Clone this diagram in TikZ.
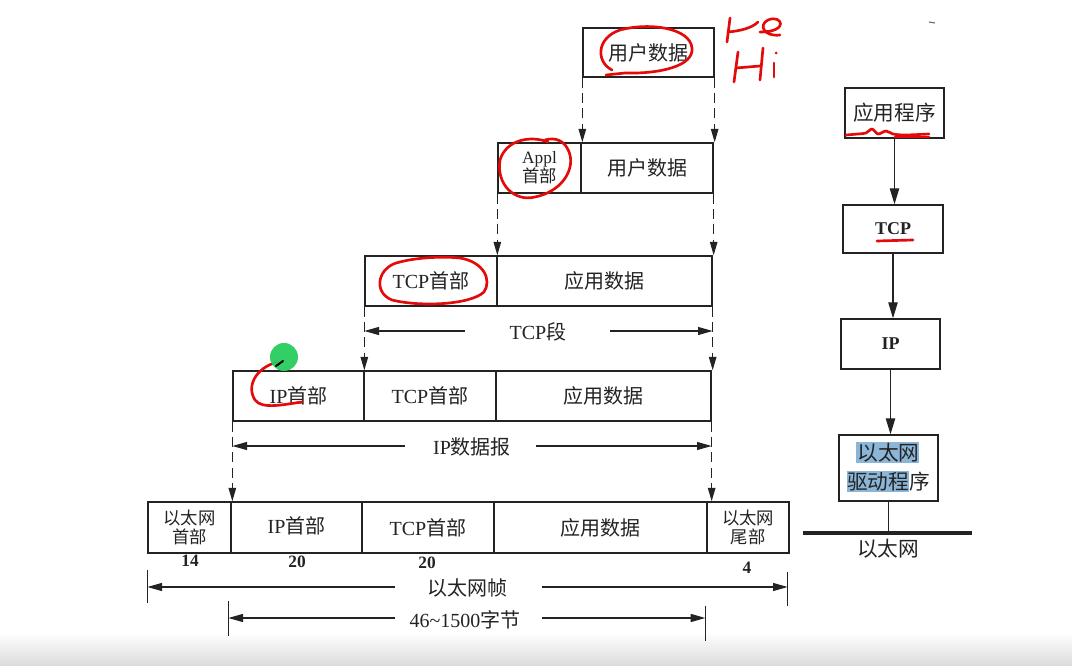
\documentclass[tikz,border=0pt]{standalone}
\usepackage{fontspec}
\setmainfont{Liberation Serif}
\newfontfamily\cjkfont{Noto Sans CJK SC}
\newcommand\zhtxt[1]{{\cjkfont #1}}
\usetikzlibrary{arrows.meta,fit,calc}
\definecolor{annotred}{RGB}{228,10,10}
\definecolor{hlblue}{RGB}{140,182,216}
\definecolor{dotgreen}{RGB}{40,205,95}
\definecolor{inkc}{RGB}{35,35,35}
\begin{document}
\begin{tikzpicture}[x=0.75pt,y=-0.75pt,
  every node/.style={text=inkc},
  cell/.style={draw=inkc, line width=1pt, inner sep=0pt},
  celltext/.style={inner sep=0pt, align=center, font=\fontsize{15}{18}\selectfont},
  smalltext/.style={inner sep=0pt, align=center, font=\fontsize{13}{14}\selectfont},
  sidetext/.style={inner sep=0pt, align=center, font=\fontsize{15.5}{22}\selectfont},
  sidebold/.style={inner sep=0pt, font=\fontsize{13.5}{16}\selectfont\bfseries},
  drop/.style={draw=inkc, dash pattern=on 7.5pt off 4pt, line width=1.1pt, -{Triangle[length=10pt,width=5.5pt]}},
  dimarrow/.style={draw=inkc, line width=0.9pt, -{Triangle[length=11pt,width=6pt]}},
  flow/.style={draw=inkc, line width=1pt, -{Triangle[length=12pt,width=7pt]}},
  tickline/.style={draw=inkc, line width=1pt},
  dimlabel/.style={font=\fontsize{15}{18}\selectfont, inner sep=0pt},
  numlabel/.style={font=\fontsize{13}{15}\selectfont\bfseries, inner sep=0pt},
  annot/.style={draw=annotred, line width=2pt, line cap=round, line join=round},
  hl/.style={fill=hlblue}
]
\useasboundingbox (0,0) rectangle (1072,666);
\fill[white] (0,0) rectangle (1072,666);
\shade[top color=white, bottom color=black!14] (0,632) rectangle (1072,666);

% ---------- row 1 ----------
\node[cell, fit={(583,28) (714,77)}] (r1) {};
\node[celltext] (t1) at (r1.center) {\zhtxt{用户数据}};
% ---------- row 2 ----------
\node[cell, fit={(498,143) (581,193)}] (r2a) {};
\node[smalltext] (t2a) at (r2a.center) {Appl\\\zhtxt{首部}};
\node[cell, fit={(581,143) (713,193)}] (r2b) {};
\node[celltext] (t2b) at (r2b.center) {\zhtxt{用户数据}};
% ---------- row 3 ----------
\node[cell, fit={(365,256) (497,306)}] (r3a) {};
\node[celltext] (t3a) at (r3a.center) {TCP\zhtxt{首部}};
\node[cell, fit={(497,256) (712,306)}] (r3b) {};
\node[celltext] (t3b) at (r3b.center) {\zhtxt{应用数据}};
% ---------- row 4 ----------
\node[cell, fit={(233,371) (364,421)}] (r4a) {};
\node[celltext] (t4a) at (r4a.center) {IP\zhtxt{首部}};
\node[cell, fit={(364,371) (496,421)}] (r4b) {};
\node[celltext] (t4b) at (r4b.center) {TCP\zhtxt{首部}};
\node[cell, fit={(496,371) (711,421)}] (r4c) {};
\node[celltext] (t4c) at (r4c.center) {\zhtxt{应用数据}};
% ---------- row 5 ----------
\node[cell, fit={(148,502) (231,553)}] (r5a) {};
\node[smalltext] (t5a) at (r5a.center) {\zhtxt{以太网}\\\zhtxt{首部}};
\node[cell, fit={(231,502) (362,553)}] (r5b) {};
\node[celltext] (t5b) at ($(r5b.center)+(0,-2)$) {IP\zhtxt{首部}};
\node[cell, fit={(362,502) (494,553)}] (r5c) {};
\node[celltext] (t5c) at (r5c.center) {TCP\zhtxt{首部}};
\node[cell, fit={(494,502) (707,553)}] (r5d) {};
\node[celltext] (t5d) at (r5d.center) {\zhtxt{应用数据}};
\node[cell, fit={(707,502) (789,553)}] (r5e) {};
\node[smalltext] (t5e) at (r5e.center) {\zhtxt{以太网}\\\zhtxt{尾部}};

% ---------- byte counts ----------
\node[numlabel] (n14) at (190,561) {14};
\node[numlabel] (n20a) at (297,562) {20};
\node[numlabel] (n20b) at (427,563) {20};
\node[numlabel] (n4) at (747,568) {4};

% ---------- drop arrows ----------
\draw[drop] (r1.south west) -- (r1.south west |- r2b.north);
\draw[drop] (r1.south east) -- (r1.south east |- r2b.north);
\draw[drop] (r2a.south west) -- (r2a.south west |- r3a.north);
\draw[drop] (r2b.south east) -- (r2b.south east |- r3b.north);
\draw[drop] (r3a.south west) -- (r3a.south west |- r4a.north);
\draw[drop] (r3b.south east) -- (r3b.south east |- r4c.north);
\draw[drop] (r4a.south west) -- (r4a.south west |- r5a.north);
\draw[drop] (r4c.south east) -- (r4c.south east |- r5e.north);

% ---------- TCP segment ----------
\node[dimlabel] (tcpseg) at (538,332) {TCP\zhtxt{段}};
\coordinate (tcpL) at (465,331);
\coordinate (tcpR) at (610,331);
\draw[dimarrow] (tcpL) -- (tcpL -| r3a.west);
\draw[dimarrow] (tcpR) -- (tcpR -| r3b.east);

% ---------- IP datagram ----------
\node[dimlabel] (ipdg) at (472,447) {IP\zhtxt{数据报}};
\coordinate (ipL) at (405,446);
\coordinate (ipR) at (536,446);
\draw[dimarrow] (ipL) -- (ipL -| r4a.west);
\draw[dimarrow] (ipR) -- (ipR -| r4c.east);

% ---------- Ethernet frame ----------
\node[dimlabel] (ethframe) at (467,588) {\zhtxt{以太网帧}};
\coordinate (efL) at (395,587);
\coordinate (efR) at (542,587);
\coordinate (efTickL) at ($(r5a.south west)+(0,16)$);
\coordinate (efTickR) at ($(r5e.south east)+(-2,18)$);
\draw[tickline] (efTickL) -- ++(0,33);
\draw[tickline] (efTickR) -- ++(0,34);
\draw[dimarrow] (efL) -- (efL -| efTickL);
\draw[dimarrow] (efR) -- (efR -| efTickR);

% ---------- 46~1500 bytes ----------
\node[dimlabel] (bytes) at (465,620) {46\textasciitilde1500\zhtxt{字节}};
\coordinate (byL) at (395,618);
\coordinate (byR) at (542,618);
\coordinate (byTickL) at ($(r5b.south west)+(-2,47)$);
\coordinate (byTickR) at ($(r5e.south west)+(-1,52)$);
\draw[tickline] (byTickL) -- ++(0,35);
\draw[tickline] (byTickR) -- ++(0,35);
\draw[dimarrow] (byL) -- (byL -| byTickL);
\draw[dimarrow] (byR) -- (byR -| byTickR);

% ---------- right column: protocol stack ----------
\node[cell, fit={(845,88) (944,138)}] (app) {};
\node[sidetext] (tapp) at (app.center) {\zhtxt{应用程序}};
\node[cell, fit={(843,205) (943,253)}] (tcp) {};
\node[sidebold] (ttcp) at (tcp.center) {TCP};
\node[cell, fit={(841,319) (940,369)}] (ip) {};
\node[sidebold] (tip) at (ip.center) {IP};
\fill[hl] (856,442) rectangle (919,463);
\fill[hl] (847,471) rectangle (909,492);
\node[cell, fit={(839,435) (938,501)}] (drv) {};
\node[sidetext] (tdrv) at ($(drv.center)+(0,-1)$) {\zhtxt{以太网}\\\zhtxt{驱动程序}};
\draw[flow] (app.south) -- (app.south |- tcp.north);
\draw[flow] (tcp.south) -- (tcp.south |- ip.north);
\draw[flow] (ip.south) -- (ip.south |- drv.north);
\coordinate (wireA) at (803,533);
\coordinate (wireB) at (972,533);
\draw[draw=inkc, line width=3pt] (wireA) -- (wireB);
\draw[draw=inkc, line width=1pt] (drv.south) -- (drv.south |- wireA);
\node[sidetext] (wire) at (888,549) {\zhtxt{以太网}};

% ---------- handwritten annotations ----------
\draw[annot] (612,70) .. controls (596,62) and (596,38) .. (620,30)
             .. controls (650,22) and (690,28) .. (692,48)
             .. controls (694,66) and (660,74) .. (625,73) -- (606,75);
\draw[annot] (548,142) .. controls (530,135) and (506,140) .. (500,160)
             .. controls (496,185) and (515,202) .. (535,197)
             .. controls (560,192) and (574,172) .. (570,155)
             .. controls (566,140) and (555,137) .. (545,140);
\draw[annot] (400,262) .. controls (378,266) and (372,292) .. (392,300)
             .. controls (420,307) and (470,305) .. (484,292)
             .. controls (492,280) and (484,262) .. (460,258)
             .. controls (440,256) and (415,258) .. (400,262);
\draw[annot] (277,362) .. controls (256,368) and (246,386) .. (255,400)
             .. controls (262,410) and (286,404) .. (302,402);
\fill[dotgreen, opacity=0.95] (284,357) circle[radius=14];
\draw[draw=black, line width=1.5pt, line cap=round] (276,366) -- (283,361);
\draw[annot] plot[smooth] coordinates {(846,135) (858,134) (866,133) (872,129) (878,134) (886,131) (893,134) (905,135) (929,134)};
\draw[annot] (895,137) -- (929,137);
\draw[annot] (877,241) -- (913,240);
% "He" / "Hi" scribbles
\draw[annot] (730,18) -- (727,42);
\draw[annot] (728,32) .. controls (740,31) and (752,28) .. (758,22);
\draw[annot] (760,32) .. controls (790,32) and (782,14) .. (768,20)
             .. controls (758,25) and (764,37) .. (780,35);
\draw[annot] (738,52) -- (734,82);
\draw[annot] (736,68) -- (760,66);
\draw[annot] (763,48) -- (760,80);
\draw[annot] (774,63) -- (774,77);
\fill[annotred] (776,53) circle[radius=1.5];
\draw[draw=black!60, line width=0.8pt] (929,22) -- (935,23);
\end{tikzpicture}
\end{document}
